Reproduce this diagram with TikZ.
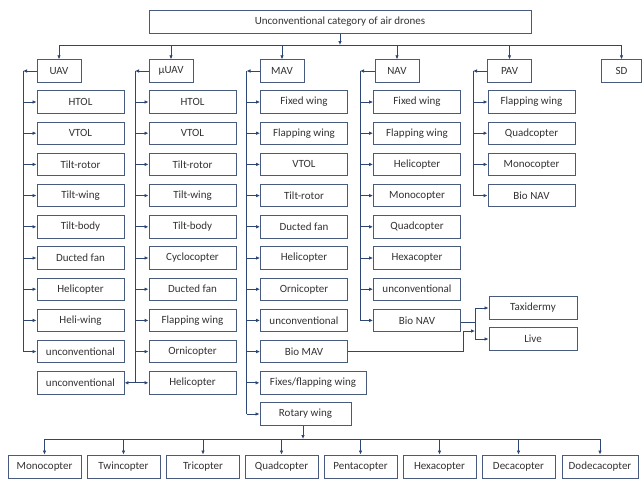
\documentclass[tikz,border=0pt]{standalone}
\usepackage{fontspec}
\setmainfont{Carlito}
\usetikzlibrary{arrows.meta, positioning}
\definecolor{boxline}{RGB}{72,90,125}
\definecolor{connline}{RGB}{45,70,115}
\definecolor{txtgray}{RGB}{50,50,50}

\begin{document}
\begin{tikzpicture}[x=1pt, y=-1pt,
  box/.style={rectangle, draw=boxline, line width=0.9pt, minimum height=22.5pt,
              inner sep=0pt, text=txtgray, font=\fontsize{11}{13}\selectfont},
  cat/.style={box, minimum width=44pt},
  leaf/.style={box, minimum width=87pt},
  copter/.style={box, minimum width=73pt, minimum height=23pt},
  arrow/.style={-{Latex[length=4pt, width=3.6pt]}, draw=connline, line width=0.9pt},
  link/.style={draw=connline, line width=0.9pt}
]
  \useasboundingbox (0,0) rectangle (642,479);

  % root and categories
  \node[box, minimum width=382pt] (title) at (340,22) {Unconventional category of air drones};
  \node[cat] (uav)  at (59,71)    {UAV};
  \node[cat] (muav) at (171,71)   {µUAV};
  \node[cat] (mav)  at (282,71)   {MAV};
  \node[cat] (nav)  at (397,71)   {NAV};
  \node[cat] (pav)  at (509.5,71) {PAV};
  \node[cat, minimum width=40pt] (sd) at (621.5,71) {SD};

  \coordinate (bus) at (0,45);
  \draw[arrow] (title.south) -- (title |- bus);
  \draw[link] (uav |- bus) -- (sd |- bus);
  \draw[arrow] (uav |- bus) -- (uav.north);
  \draw[arrow] (muav |- bus) -- (muav.north);
  \draw[arrow] (mav |- bus) -- (mav.north);
  \draw[arrow] (nav |- bus) -- (nav.north);
  \draw[arrow] (pav |- bus) -- (pav.north);
  \draw[arrow] (sd |- bus) -- (sd.north);

  % UAV
  \node[leaf] (u1) at (80.5,102)   {HTOL};
  \node[leaf] (u2) at (80.5,133.2) {VTOL};
  \node[leaf] (u3) at (80.5,164.4) {Tilt-rotor};
  \node[leaf] (u4) at (80.5,195.6) {Tilt-wing};
  \node[leaf] (u5) at (80.5,226.8) {Tilt-body};
  \node[leaf] (u6) at (80.5,258)   {Ducted fan};
  \node[leaf] (u7) at (80.5,289.2) {Helicopter};
  \node[leaf] (u8) at (80.5,320.4) {Heli-wing};
  \node[leaf] (u9) at (80.5,351.6) {unconventional};
  \coordinate (us) at (23,71);
  \draw[arrow] (uav.west) -- (us);
  \draw[link] (us) -- (us |- u9);
  \path (us |- u1) edge[arrow] (u1.west) (us |- u2) edge[arrow] (u2.west)
        (us |- u3) edge[arrow] (u3.west) (us |- u4) edge[arrow] (u4.west)
        (us |- u5) edge[arrow] (u5.west) (us |- u6) edge[arrow] (u6.west)
        (us |- u7) edge[arrow] (u7.west) (us |- u8) edge[arrow] (u8.west)
        (us |- u9) edge[arrow] (u9.west);

  % muUAV
  \node[leaf] (m1)  at (192.5,102)   {HTOL};
  \node[leaf] (m2)  at (192.5,133.2) {VTOL};
  \node[leaf] (m3)  at (192.5,164.4) {Tilt-rotor};
  \node[leaf] (m4)  at (192.5,195.6) {Tilt-wing};
  \node[leaf] (m5)  at (192.5,226.8) {Tilt-body};
  \node[leaf] (m6)  at (192.5,258)   {Cyclocopter};
  \node[leaf] (m7)  at (192.5,289.2) {Ducted fan};
  \node[leaf] (m8)  at (192.5,320.4) {Flapping wing};
  \node[leaf] (m9)  at (192.5,351.6) {Ornicopter};
  \node[leaf] (m10) at (192.5,382.8) {Helicopter};
  \node[leaf] (m11) at (80.5,382.8)  {unconventional};
  \coordinate (ms) at (135,71);
  \draw[arrow] (muav.west) -- (ms);
  \draw[link] (ms) -- (ms |- m10);
  \path (ms |- m1) edge[arrow] (m1.west) (ms |- m2) edge[arrow] (m2.west)
        (ms |- m3) edge[arrow] (m3.west) (ms |- m4) edge[arrow] (m4.west)
        (ms |- m5) edge[arrow] (m5.west) (ms |- m6) edge[arrow] (m6.west)
        (ms |- m7) edge[arrow] (m7.west) (ms |- m8) edge[arrow] (m8.west)
        (ms |- m9) edge[arrow] (m9.west) (ms |- m10) edge[arrow] (m10.west)
        (ms |- m11) edge[arrow] (m11.east);

  % MAV
  \node[leaf] (a1)  at (304,102)   {Fixed wing};
  \node[leaf] (a2)  at (304,133.2) {Flapping wing};
  \node[leaf] (a3)  at (304,164.4) {VTOL};
  \node[leaf] (a4)  at (304,195.6) {Tilt-rotor};
  \node[leaf] (a5)  at (304,226.8) {Ducted fan};
  \node[leaf] (a6)  at (304,258)   {Helicopter};
  \node[leaf] (a7)  at (304,289.2) {Ornicopter};
  \node[leaf] (a8)  at (304,320.4) {unconventional};
  \node[leaf] (a9)  at (304,351.6) {Bio MAV};
  \node[leaf, minimum width=106pt] (a10) at (313,382.8) {Fixes/flapping wing};
  \node[leaf, minimum width=91pt]  (a11) at (305.5,414) {Rotary wing};
  \coordinate (as) at (246.5,71);
  \draw[arrow] (mav.west) -- (as);
  \draw[link] (as) -- (as |- a11);
  \path (as |- a1) edge[arrow] (a1.west) (as |- a2) edge[arrow] (a2.west)
        (as |- a3) edge[arrow] (a3.west) (as |- a4) edge[arrow] (a4.west)
        (as |- a5) edge[arrow] (a5.west) (as |- a6) edge[arrow] (a6.west)
        (as |- a7) edge[arrow] (a7.west) (as |- a8) edge[arrow] (a8.west)
        (as |- a9) edge[arrow] (a9.west) (as |- a10) edge[arrow] (a10.west)
        (as |- a11) edge[arrow] (a11.west);

  % NAV
  \node[leaf] (n1) at (417,102)   {Fixed wing};
  \node[leaf] (n2) at (417,133.2) {Flapping wing};
  \node[leaf] (n3) at (417,164.4) {Helicopter};
  \node[leaf] (n4) at (417,195.6) {Monocopter};
  \node[leaf] (n5) at (417,226.8) {Quadcopter};
  \node[leaf] (n6) at (417,258)   {Hexacopter};
  \node[leaf] (n7) at (417,289.2) {unconventional};
  \node[leaf] (n8) at (417,320.4) {Bio NAV};
  \coordinate (ns) at (360,71);
  \draw[arrow] (nav.west) -- (ns);
  \draw[link] (ns) -- (ns |- n8);
  \path (ns |- n1) edge[arrow] (n1.west) (ns |- n2) edge[arrow] (n2.west)
        (ns |- n3) edge[arrow] (n3.west) (ns |- n4) edge[arrow] (n4.west)
        (ns |- n5) edge[arrow] (n5.west) (ns |- n6) edge[arrow] (n6.west)
        (ns |- n7) edge[arrow] (n7.west) (ns |- n8) edge[arrow] (n8.west);

  % PAV
  \node[leaf] (p1) at (531.5,102)   {Flapping wing};
  \node[leaf] (p2) at (531.5,133.2) {Quadcopter};
  \node[leaf] (p3) at (531.5,164.4) {Monocopter};
  \node[leaf] (p4) at (531.5,195.6) {Bio NAV};
  \coordinate (ps) at (473,71);
  \draw[arrow] (pav.west) -- (ps);
  \draw[link] (ps) -- (ps |- p4);
  \path (ps |- p1) edge[arrow] (p1.west) (ps |- p2) edge[arrow] (p2.west)
        (ps |- p3) edge[arrow] (p3.west) (ps |- p4) edge[arrow] (p4.west);

  % bio fork
  \node[leaf, minimum width=88pt] (taxi) at (533,308) {Taxidermy};
  \node[leaf, minimum width=88pt] (live) at (533,339) {Live};
  \coordinate (fork) at (475,322);
  \draw[link] (n8.east |- fork) -- (fork);
  \draw[link] (fork |- taxi) -- (fork |- live);
  \draw[arrow] (fork |- taxi) -- (taxi.west);
  \draw[arrow] (fork |- live) -- (live.west);
  \coordinate (biojog) at (463,331);
  \draw[arrow] (a9.east) -| (biojog) -- (fork |- biojog);

  % rotary wing
  \coordinate (bus2) at (0,439);
  \node[copter] (c1) at (44.5,466.5)  {Monocopter};
  \node[copter] (c2) at (123.5,466.5) {Twincopter};
  \node[copter] (c3) at (203,466.5)   {Tricopter};
  \node[copter] (c4) at (281.5,466.5) {Quadcopter};
  \node[copter] (c5) at (360.5,466.5) {Pentacopter};
  \node[copter] (c6) at (439.5,466.5) {Hexacopter};
  \node[copter] (c7) at (518.5,466.5) {Decacopter};
  \node[copter, minimum width=76pt] (c8) at (600,466.5) {Dodecacopter};
  \draw[arrow] (a11.south -| 303,0) -- (bus2 -| 303,0);
  \draw[link] (c1 |- bus2) -- (c8 |- bus2);
  \path (c1 |- bus2) edge[arrow] (c1.north) (c2 |- bus2) edge[arrow] (c2.north)
        (c3 |- bus2) edge[arrow] (c3.north) (c4 |- bus2) edge[arrow] (c4.north)
        (c5 |- bus2) edge[arrow] (c5.north) (c6 |- bus2) edge[arrow] (c6.north)
        (c7 |- bus2) edge[arrow] (c7.north) (c8 |- bus2) edge[arrow] (c8.north);
\end{tikzpicture}
\end{document}
